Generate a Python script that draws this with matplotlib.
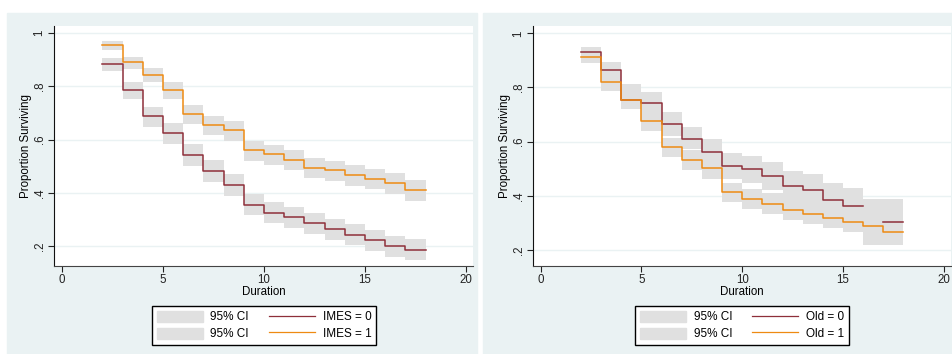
import numpy as np
import matplotlib
matplotlib.use("Agg")
import matplotlib.pyplot as plt
from matplotlib.patches import Patch, Rectangle
from matplotlib.lines import Line2D

plt.rcParams['font.family'] = ['Liberation Sans', 'DejaVu Sans']

# durations where each step starts (the last step runs to 18)
t = np.arange(2, 18)
t_end = 18

# panel a: IMES
imes0 = [0.885, 0.787, 0.688, 0.624, 0.542, 0.481, 0.429, 0.356,
         0.326, 0.308, 0.286, 0.263, 0.243, 0.222, 0.199, 0.186]
imes0_lo = [0.856, 0.753, 0.649, 0.584, 0.502, 0.440, 0.387, 0.316,
            0.286, 0.268, 0.245, 0.223, 0.203, 0.183, 0.160, 0.149]
imes0_hi = [0.906, 0.818, 0.724, 0.661, 0.583, 0.522, 0.470, 0.396,
            0.366, 0.348, 0.324, 0.303, 0.283, 0.261, 0.238, 0.227]
imes1 = [0.955, 0.891, 0.843, 0.786, 0.695, 0.655, 0.635, 0.560,
         0.545, 0.523, 0.495, 0.484, 0.467, 0.453, 0.437, 0.411]
imes1_lo = [0.937, 0.865, 0.816, 0.753, 0.660, 0.619, 0.595, 0.521,
            0.506, 0.484, 0.456, 0.443, 0.427, 0.413, 0.397, 0.371]
imes1_hi = [0.970, 0.912, 0.868, 0.816, 0.729, 0.689, 0.670, 0.596,
            0.580, 0.560, 0.532, 0.520, 0.505, 0.491, 0.476, 0.450]

# panel b: Old
old0 = [0.932, 0.865, 0.754, 0.744, 0.667, 0.609, 0.563, 0.510,
        0.498, 0.475, 0.437, 0.422, 0.385, 0.362, np.nan, 0.304]
old0_lo = [0.908, 0.830, 0.721, 0.705, 0.621, 0.572, 0.518, 0.461,
           0.446, 0.422, 0.379, 0.370, 0.330, 0.299, 0.225, 0.225]
old0_hi = [0.951, 0.894, 0.813, 0.782, 0.710, 0.654, 0.610, 0.560,
           0.547, 0.525, 0.491, 0.480, 0.446, 0.428, 0.387, 0.387]
old1 = [0.914, 0.819, 0.754, 0.678, 0.580, 0.532, 0.502, 0.413,
        0.389, 0.371, 0.348, 0.332, 0.317, 0.303, 0.289, 0.267]
old1_lo = [0.889, 0.788, 0.721, 0.641, 0.544, 0.496, 0.462, 0.378,
           0.353, 0.334, 0.311, 0.295, 0.283, 0.267, 0.219, 0.219]
old1_hi = [0.936, 0.852, 0.813, 0.717, 0.615, 0.569, 0.539, 0.449,
           0.424, 0.410, 0.391, 0.379, 0.360, 0.342, 0.330, 0.311]

yticks = [0.2, 0.4, 0.6, 0.8, 1.0]
ytick_labels = ['.2', '.4', '.6', '.8', '1']
xticks = [0, 5, 10, 15, 20]

bg = '#EAF2F3'
ci_col = '#E0E0E0'
c0 = '#8E2F3A'
c1 = '#EE8A12'

fig = plt.figure(figsize=(9.52, 3.54), dpi=100)
fig.patch.set_facecolor('white')
# stata graph regions
fig.add_artist(Rectangle((7 / 952, 0), 470 / 952, 1 - 13 / 354,
                         transform=fig.transFigure, color=bg, zorder=0))
fig.add_artist(Rectangle((483 / 952, 0), 469 / 952, 1 - 13 / 354,
                         transform=fig.transFigure, color=bg, zorder=0))


def ext(v):
    v = np.asarray(v, dtype=float)
    return np.append(t, t_end), np.append(v, v[-1])


def panel(pos, ylim, xlim, s0, s0lo, s0hi, s1, s1lo, s1hi, name, leg_x):
    ax = fig.add_axes(pos)
    ax.set_facecolor('white')
    for lo, hi in [(s0lo, s0hi), (s1lo, s1hi)]:
        tx, l = ext(lo)
        _, h = ext(hi)
        ax.fill_between(tx, l, h, step='post', color=ci_col, lw=0, zorder=2)
    for s, c in [(s0, c0), (s1, c1)]:
        tx, v = ext(s)
        ax.step(tx, v, where='post', color=c, lw=1.1, zorder=3)
    ax.set_xlim(xlim)
    ax.set_ylim(ylim)
    ax.set_xticks(xticks)
    ax.set_yticks(yticks)
    ax.set_yticklabels(ytick_labels, rotation=90, va='center')
    ax.grid(axis='y', color=bg, lw=1.0, zorder=1)
    ax.set_axisbelow(True)
    for sp in ['top', 'right']:
        ax.spines[sp].set_visible(False)
    ax.spines['left'].set_color('#111111')
    ax.spines['bottom'].set_color('#444444')
    ax.tick_params(direction='out', length=4, width=0.8, labelsize=8.3,
                   colors='#222222', pad=2)
    ax.set_xlabel('Duration', fontsize=8.3, labelpad=0)
    ax.set_ylabel('Proportion Surviving', fontsize=8.3, labelpad=1)
    handles = [Patch(color=ci_col), Patch(color=ci_col),
               Line2D([], [], color=c0, lw=0.9), Line2D([], [], color=c1, lw=0.9)]
    labels = ['95% CI', '95% CI', name + ' = 0', name + ' = 1']
    fig.legend(handles, labels, ncol=2, loc='center',
               bbox_to_anchor=(leg_x, 1 - 325.5 / 354), fontsize=8.5,
               frameon=True, fancybox=False, edgecolor='black',
               handlelength=3.9, handleheight=1.1, columnspacing=1.7,
               labelspacing=0.34, borderpad=0.38, handletextpad=0.65,
               framealpha=1)
    return ax


panel([54 / 952, 1 - 266 / 354, 419 / 952, 240 / 354], (0.125, 1.027),
      (-0.40, 20.35), imes0, imes0_lo, imes0_hi, imes1, imes1_lo, imes1_hi,
      'IMES', 264 / 952)
panel([533 / 952, 1 - 266 / 354, 418 / 952, 240 / 354], (0.141, 1.027),
      (-0.38, 20.36), old0, old0_lo, old0_hi, old1, old1_lo, old1_hi,
      'Old', 742 / 952)

fig.savefig('out.png', dpi=100)
